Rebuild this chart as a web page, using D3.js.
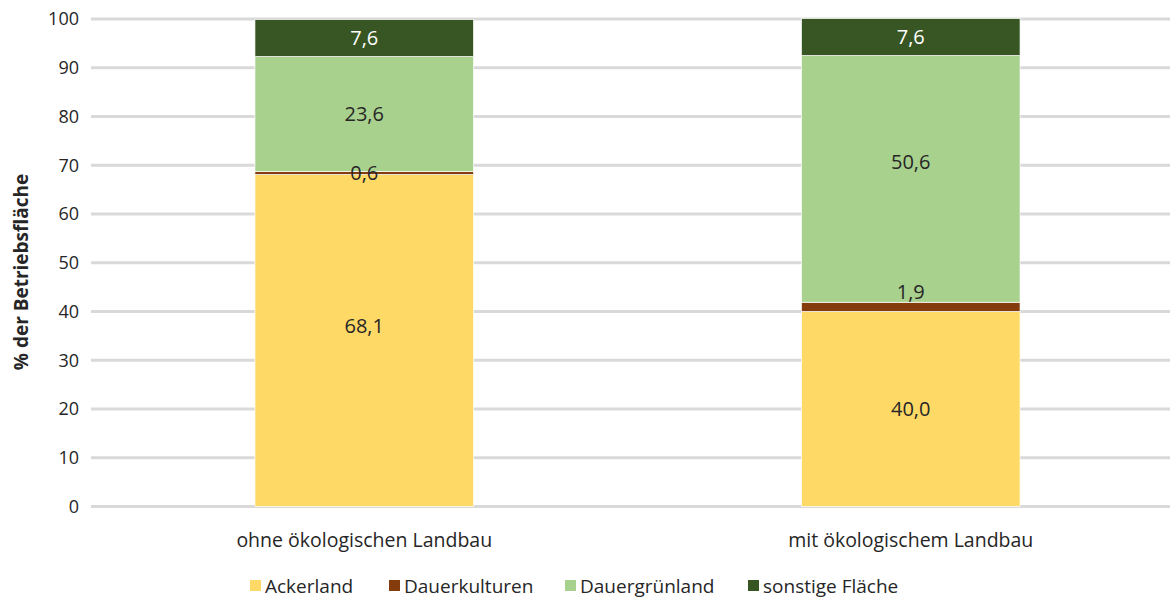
<!DOCTYPE html>
<html>
<head>
<meta charset="utf-8">
<script src="https://cdn.jsdelivr.net/npm/d3@7"></script>
<style>
  body { margin: 0; background: #fff; }
  text { font-family: "Open Sans", "Noto Sans", sans-serif; fill: #262626; }
</style>
</head>
<body>
<script>
var width = 1170,
    height = 599;

// Data
var categories = ['ohne ökologischen Landbau', 'mit ökologischem Landbau'];
var seriesNames = ['Ackerland', 'Dauerkulturen', 'Dauergrünland', 'sonstige Fläche'];
var ackerland = [68.1, 40.0];
var dauerkulturen = [0.6, 1.9];
var dauergruenland = [23.6, 50.6];
var sonstige = [7.6, 7.6];
var yTicks = [0, 10, 20, 30, 40, 50, 60, 70, 80, 90, 100];

var colors = ['#ffd966', '#843c0c', '#a9d18e', '#375623'];
var labelColors = ['#262626', '#262626', '#262626', '#ffffff'];

var rows = categories.map(function(c, i) {
  return {
    cat: c,
    'Ackerland': ackerland[i],
    'Dauerkulturen': dauerkulturen[i],
    'Dauergrünland': dauergruenland[i],
    'sonstige Fläche': sonstige[i]
  };
});

var svg = d3.select('body').append('svg')
    .attr('width', width)
    .attr('height', height);

var x = d3.scaleBand()
    .domain(categories)
    .range([91, 1184])
    .paddingInner(0.6)
    .paddingOuter(0.3);

var y = d3.scaleLinear()
    .domain([0, 100])
    .range([506.5, 19]);

// gridlines
svg.append('g')
  .selectAll('line')
  .data(yTicks)
  .enter().append('line')
    .attr('x1', 91)
    .attr('x2', width)
    .attr('y1', function(d) { return y(d); })
    .attr('y2', function(d) { return y(d); })
    .style('stroke', '#d9d9d9')
    .style('stroke-width', 3);

// y tick labels
svg.append('g')
  .selectAll('text')
  .data(yTicks)
  .enter().append('text')
    .attr('x', 79)
    .attr('y', function(d) { return y(d); })
    .attr('dy', '0.35em')
    .attr('text-anchor', 'end')
    .style('font-size', '18px')
    .text(function(d) { return d; });

// y axis title
svg.append('text')
    .attr('transform', 'translate(28,' + 272 + ') rotate(-90)')
    .attr('text-anchor', 'middle')
    .style('font-size', '19px')
    .style('font-weight', 'bold')
    .text('% der Betriebsfläche');

var stack = d3.stack().keys(seriesNames);
var layers = stack(rows);

var layerG = svg.append('g')
  .selectAll('g')
  .data(layers)
  .enter().append('g')
    .attr('fill', function(d, i) { return colors[i]; });

layerG.selectAll('rect')
  .data(function(d) { return d; })
  .enter().append('rect')
    .attr('x', function(d) { return x(d.data.cat); })
    .attr('width', x.bandwidth())
    .attr('y', function(d) { return y(d[1]); })
    .attr('height', function(d) { return y(d[0]) - y(d[1]); })
    .style('stroke', '#fff')
    .style('stroke-width', 0.7);

// value labels (some were moved by hand in the original, in value units)
var nudge = { 'Ackerland|0': 3, 'Dauerkulturen|1': 3, 'Dauergrünland|1': 3.5 };
layers.forEach(function(layer, li) {
  svg.append('g')
    .selectAll('text')
    .data(layer)
    .enter().append('text')
      .attr('x', function(d) { return x(d.data.cat) + x.bandwidth() / 2; })
      .attr('y', function(d, i) {
        var n = nudge[layer.key + '|' + i] || 0;
        return y((d[0] + d[1]) / 2 + n);
      })
      .attr('dy', '0.35em')
      .attr('text-anchor', 'middle')
      .style('font-size', '20px')
      .style('fill', labelColors[li])
      .text(function(d) { return d3.format('.1f')(d[1] - d[0]).replace('.', ','); });
});

// category labels
svg.append('g')
  .selectAll('text')
  .data(categories)
  .enter().append('text')
    .attr('x', function(d) { return x(d) + x.bandwidth() / 2; })
    .attr('y', 540)
    .attr('dy', '0.35em')
    .attr('text-anchor', 'middle')
    .style('font-size', '19.5px')
    .text(function(d) { return d; });

// legend
var legendX = [250, 389, 565, 748];
var legend = svg.append('g')
  .selectAll('g')
  .data(seriesNames)
  .enter().append('g')
    .attr('transform', function(d, i) { return 'translate(' + legendX[i] + ',580)'; });

legend.append('rect')
    .attr('width', 11)
    .attr('height', 11)
    .attr('fill', function(d, i) { return colors[i]; });

legend.append('text')
    .attr('x', 15)
    .attr('y', 6)
    .attr('dy', '0.35em')
    .style('font-size', '19px')
    .text(function(d) { return d; });
</script>
</body>
</html>
